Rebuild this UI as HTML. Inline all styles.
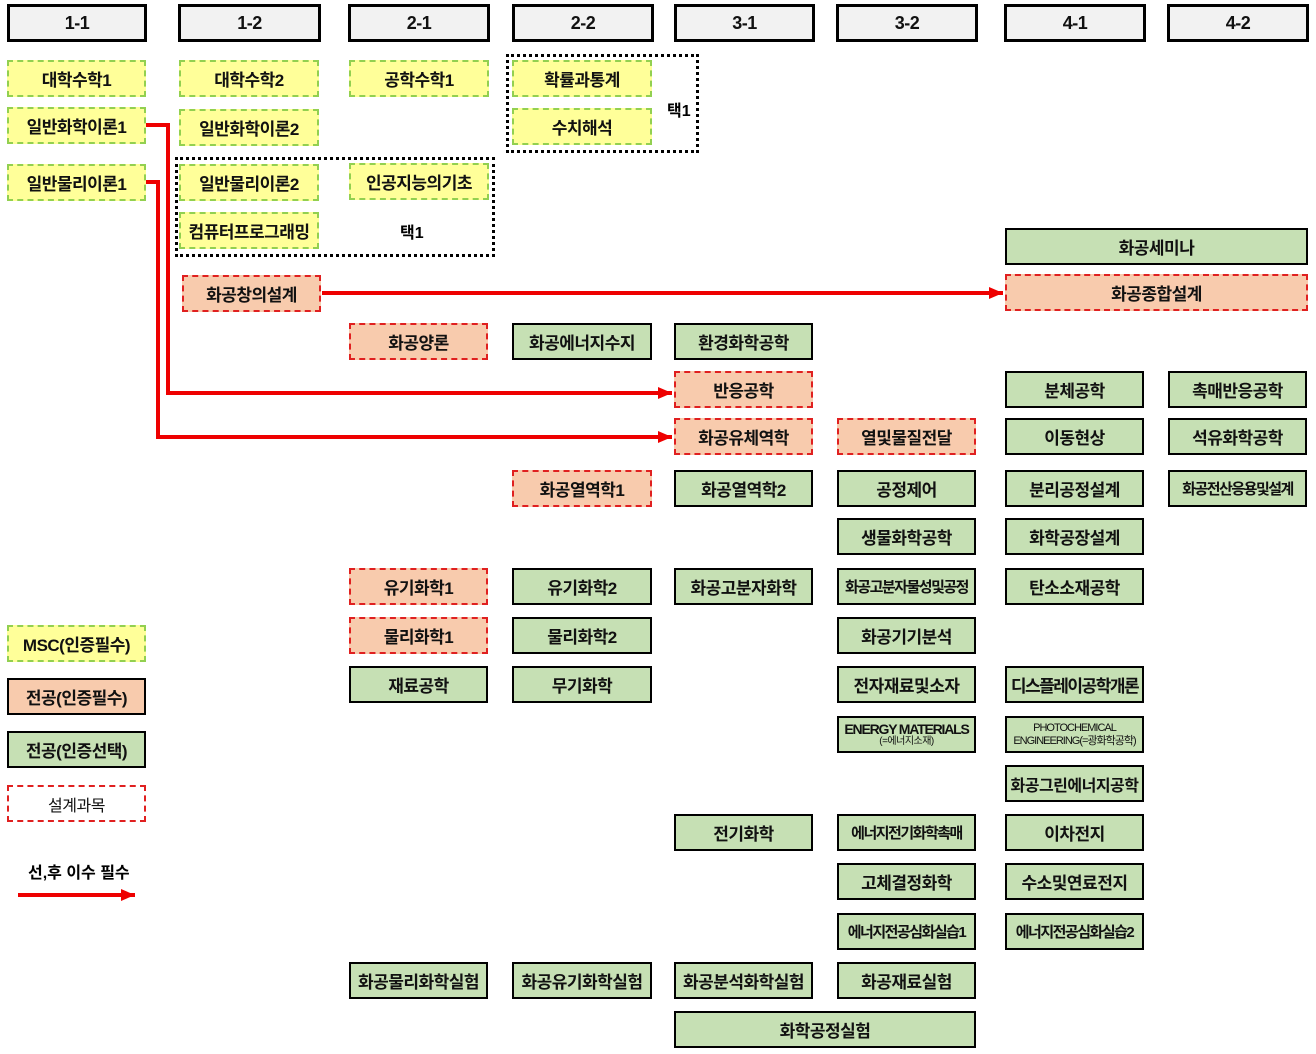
<!DOCTYPE html>
<html><head><meta charset="utf-8"><style>
body{margin:0;width:1316px;height:1054px;background:#fff;position:relative;overflow:hidden;font-family:"Liberation Sans","Noto Sans CJK KR","NanumGothic",sans-serif;}
.b{position:absolute;box-sizing:border-box;display:flex;align-items:center;justify-content:center;text-align:center;font-weight:bold;font-size:17px;color:#111;letter-spacing:-0.5px;white-space:nowrap;}
.h{background:#f2f2f2;border:3px solid #000;font-size:18px;}
.y{background:#ffff99;border:2px dashed #92d050;}
.o{background:#f8cbad;border:2px dashed #e02020;}
.g{background:#c6e0b4;border:2px solid #000;}
.w{background:#fff;border:2px dashed #e02020;}
.d{position:absolute;box-sizing:border-box;border:3px dotted #000;}
.t{position:absolute;font-weight:bold;font-size:16px;}
.s{font-size:15px;letter-spacing:-1.5px;}
</style></head><body>
<div class="b h" style="left:7px;top:4px;width:140px;height:38px">1-1</div>
<div class="b h" style="left:178px;top:4px;width:143px;height:38px">1-2</div>
<div class="b h" style="left:348px;top:4px;width:142px;height:38px">2-1</div>
<div class="b h" style="left:512px;top:4px;width:142px;height:38px">2-2</div>
<div class="b h" style="left:674px;top:4px;width:141px;height:38px">3-1</div>
<div class="b h" style="left:836px;top:4px;width:142px;height:38px">3-2</div>
<div class="b h" style="left:1004px;top:4px;width:142px;height:38px">4-1</div>
<div class="b h" style="left:1167px;top:4px;width:142px;height:38px">4-2</div>

<div class="d" style="left:175px;top:157px;width:320px;height:100px"></div>
<div class="d" style="left:506px;top:54px;width:193px;height:99px"></div>
<div class="t" style="left:400px;top:219px">택1</div>
<div class="t" style="left:667px;top:97px">택1</div>

<div class="b y" style="left:7px;top:60px;width:139px;height:37px">대학수학1</div>
<div class="b y" style="left:7px;top:107px;width:139px;height:37px">일반화학이론1</div>
<div class="b y" style="left:7px;top:164px;width:139px;height:37px">일반물리이론1</div>
<div class="b y" style="left:179px;top:60px;width:140px;height:37px">대학수학2</div>
<div class="b y" style="left:179px;top:109px;width:140px;height:37px">일반화학이론2</div>
<div class="b y" style="left:179px;top:164px;width:140px;height:37px">일반물리이론2</div>
<div class="b y" style="left:179px;top:212px;width:140px;height:37px">컴퓨터프로그래밍</div>
<div class="b y" style="left:349px;top:60px;width:140px;height:37px">공학수학1</div>
<div class="b y" style="left:349px;top:163px;width:140px;height:37px">인공지능의기초</div>
<div class="b y" style="left:512px;top:60px;width:140px;height:37px">확률과통계</div>
<div class="b y" style="left:512px;top:108px;width:140px;height:37px">수치해석</div>

<div class="b g" style="left:1005px;top:228px;width:303px;height:37px">화공세미나</div>
<div class="b o" style="left:1005px;top:274px;width:303px;height:37px">화공종합설계</div>
<div class="b o" style="left:182px;top:275px;width:139px;height:37px">화공창의설계</div>

<div class="b o" style="left:349px;top:323px;width:139px;height:37px">화공양론</div>
<div class="b g" style="left:512px;top:323px;width:140px;height:37px">화공에너지수지</div>
<div class="b g" style="left:674px;top:323px;width:139px;height:37px">환경화학공학</div>

<div class="b o" style="left:674px;top:371px;width:139px;height:37px">반응공학</div>
<div class="b g" style="left:1005px;top:371px;width:139px;height:37px">분체공학</div>
<div class="b g" style="left:1168px;top:371px;width:139px;height:37px">촉매반응공학</div>

<div class="b o" style="left:674px;top:418px;width:139px;height:37px">화공유체역학</div>
<div class="b o" style="left:837px;top:418px;width:139px;height:37px">열및물질전달</div>
<div class="b g" style="left:1005px;top:418px;width:139px;height:37px">이동현상</div>
<div class="b g" style="left:1168px;top:418px;width:139px;height:37px">석유화학공학</div>

<div class="b o" style="left:512px;top:470px;width:140px;height:37px">화공열역학1</div>
<div class="b g" style="left:674px;top:470px;width:139px;height:37px">화공열역학2</div>
<div class="b g" style="left:837px;top:470px;width:139px;height:37px">공정제어</div>
<div class="b g" style="left:1005px;top:470px;width:139px;height:37px">분리공정설계</div>
<div class="b g s" style="left:1168px;top:470px;width:139px;height:37px">화공전산응용및설계</div>

<div class="b g" style="left:837px;top:518px;width:139px;height:37px">생물화학공학</div>
<div class="b g" style="left:1005px;top:518px;width:139px;height:37px">화학공장설계</div>

<div class="b o" style="left:349px;top:568px;width:139px;height:37px">유기화학1</div>
<div class="b g" style="left:512px;top:568px;width:140px;height:37px">유기화학2</div>
<div class="b g" style="left:674px;top:568px;width:139px;height:37px">화공고분자화학</div>
<div class="b g s" style="left:837px;top:568px;width:139px;height:37px">화공고분자물성및공정</div>
<div class="b g" style="left:1005px;top:568px;width:139px;height:37px">탄소소재공학</div>

<div class="b o" style="left:349px;top:617px;width:139px;height:37px">물리화학1</div>
<div class="b g" style="left:512px;top:617px;width:140px;height:37px">물리화학2</div>
<div class="b g" style="left:837px;top:617px;width:139px;height:37px">화공기기분석</div>

<div class="b g" style="left:349px;top:666px;width:139px;height:37px">재료공학</div>
<div class="b g" style="left:512px;top:666px;width:140px;height:37px">무기화학</div>
<div class="b g" style="left:837px;top:666px;width:139px;height:37px">전자재료및소자</div>
<div class="b g" style="left:1005px;top:666px;width:139px;height:37px;letter-spacing:-1.5px">디스플레이공학개론</div>

<div class="b g" style="left:837px;top:716px;width:139px;height:37px;flex-direction:column;line-height:1.05"><span style="font-size:14px;letter-spacing:-1.2px">ENERGY MATERIALS</span><span style="font-size:10px;font-weight:normal">(=에너지소재)</span></div>
<div class="b g" style="left:1005px;top:716px;width:139px;height:37px;flex-direction:column;line-height:1.15;font-size:11px;font-weight:normal;letter-spacing:-1px"><span>PHOTOCHEMICAL</span><span>ENGINEERING(=광화학공학)</span></div>

<div class="b g" style="left:1005px;top:765px;width:139px;height:37px;font-size:16px">화공그린에너지공학</div>

<div class="b g" style="left:674px;top:814px;width:139px;height:37px">전기화학</div>
<div class="b g s" style="left:837px;top:814px;width:139px;height:37px">에너지전기화학촉매</div>
<div class="b g" style="left:1005px;top:814px;width:139px;height:37px">이차전지</div>

<div class="b g" style="left:837px;top:863px;width:139px;height:37px">고체결정화학</div>
<div class="b g" style="left:1005px;top:863px;width:139px;height:37px">수소및연료전지</div>

<div class="b g s" style="left:837px;top:913px;width:139px;height:37px">에너지전공심화실습1</div>
<div class="b g s" style="left:1005px;top:913px;width:139px;height:37px">에너지전공심화실습2</div>

<div class="b g" style="left:349px;top:962px;width:139px;height:37px">화공물리화학실험</div>
<div class="b g" style="left:512px;top:962px;width:140px;height:37px">화공유기화학실험</div>
<div class="b g" style="left:674px;top:962px;width:139px;height:37px">화공분석화학실험</div>
<div class="b g" style="left:837px;top:962px;width:139px;height:37px">화공재료실험</div>
<div class="b g" style="left:674px;top:1011px;width:302px;height:37px">화학공정실험</div>

<div class="b y" style="left:7px;top:625px;width:139px;height:37px">MSC(인증필수)</div>
<div class="b o" style="left:7px;top:678px;width:139px;height:37px;border-style:solid;border-color:#000">전공(인증필수)</div>
<div class="b g" style="left:7px;top:731px;width:139px;height:37px">전공(인증선택)</div>
<div class="b w" style="left:7px;top:785px;width:139px;height:37px;font-weight:normal;font-size:16px">설계과목</div>
<div class="t" style="left:28px;top:859px">선,후 이수 필수</div>

<svg style="position:absolute;left:0;top:0" width="1316" height="1054">
<defs><marker id="a" markerUnits="userSpaceOnUse" markerWidth="14" markerHeight="12" refX="14" refY="6" orient="auto"><path d="M0,0L14,6L0,12z" fill="#e00"/></marker></defs>
<g stroke="#e00" stroke-width="4" fill="none">
<path d="M146,125H168V393H672" marker-end="url(#a)"/>
<path d="M146,182H158V437H672" marker-end="url(#a)"/>
<path d="M322,293H1003" marker-end="url(#a)"/>
<path d="M18,895H135" marker-end="url(#a)"/>
</g></svg>
</body></html>
